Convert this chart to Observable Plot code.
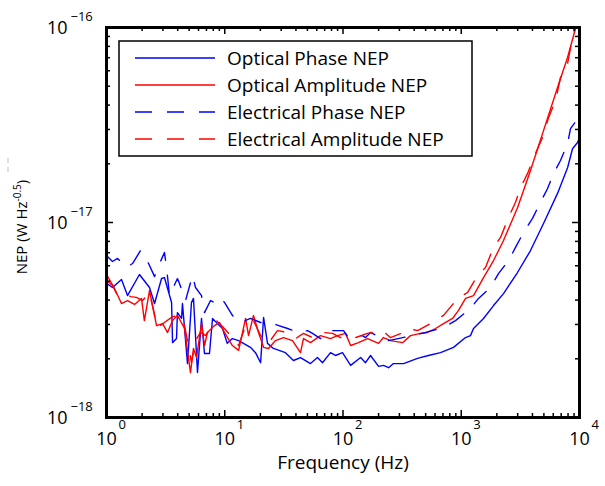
<!DOCTYPE html>
<html><head><meta charset="utf-8">
<script src="https://cdn.jsdelivr.net/npm/d3@7"></script>
<script src="https://cdn.jsdelivr.net/npm/@observablehq/plot@0.6"></script>
<style>
body{margin:0;background:#fff;}
#chart{width:605px;height:486px;}
</style></head><body><div id="chart"></div>
<script>
// [frequency (Hz), NEP in units of 1e-18 W Hz^-0.5]
const opticalPhase = [[1,4.87],[1.124,4.64],[1.339,5.10],[1.505,4.22],[1.90,5.41],[2.31,4.64],[2.55,3.84],[2.92,5.16],[3.09,5.22],[3.55,3.89],[3.62,2.42],[3.91,2.54],[3.98,3.45],[4.31,3.22],[4.39,3.84],[4.84,1.89],[5.23,3.89],[5.44,4.08],[5.88,1.70],[6.36,3.22],[6.74,2.13],[7.43,2.13],[7.88,3.22],[8.68,3.03],[9.57,2.86],[10.5,2.40],[11.6,2.54],[13.1,2.48],[16.5,2.29],[18.2,2.15],[20.1,1.91],[21.3,3.26],[23.0,2.40],[25.8,2.26],[32.6,2.15],[38.1,1.96],[43.7,2.03],[53.1,1.89],[60.8,2.03],[67.1,1.91],[78.4,2.15],[86.4,2.08],[99,2.15],[116,1.85],[141,2.03],[155,1.91],[171,2.08],[200,1.83],[220,1.85],[243,1.80],[267,1.89],[325,1.89],[427,2.01],[528,2.08],[668,2.15],[860,2.29],[1087,2.57],[1197,2.63],[1270,2.86],[1543,3.22],[1875,3.75],[2277,4.32],[2990,5.54],[3852,7.18],[4962,9.88],[6520,14.1],[7925,19.1],[8730,23.9],[9620,25.7],[10000,27.3]];
const opticalAmplitude = [[1,5.41],[1.169,4.59],[1.339,3.84],[1.505,3.98],[1.726,3.80],[1.977,4.08],[2.09,3.14],[2.31,4.48],[2.65,2.96],[2.98,3.03],[3.28,2.73],[3.62,3.14],[3.98,3.34],[4.57,2.86],[4.84,2.21],[5.13,1.70],[5.44,2.26],[5.77,2.03],[6.36,3.03],[6.74,2.34],[7.15,2.73],[8.19,2.96],[9.03,3.07],[9.95,2.73],[11.2,2.42],[11.6,2.34],[13.1,2.21],[15.0,3.22],[15.9,2.63],[17.5,3.34],[19.3,2.73],[21.3,2.29],[23.4,2.26],[26.9,2.48],[31.4,2.57],[37.4,2.48],[43.7,2.15],[46.3,2.54],[53.1,2.42],[64.5,2.63],[78.4,2.54],[89.8,2.63],[105,2.70],[116,2.34],[135,2.42],[161,2.54],[200,2.40],[220,2.57],[252,2.48],[319,2.42],[372,2.63],[452,2.70],[518,2.73],[606,2.86],[708,3.03],[844,3.22],[948,3.54],[1087,4.08],[1152,4.13],[1270,4.22],[1543,5.22],[1875,6.38],[2277,8.09],[2990,11.9],[3852,18.5],[4962,29.6],[6520,49.2],[7925,70.2],[9250,98.8],[10000,120]];
const electricalPhase = [[1,6.77],[1.124,6.31],[1.239,6.54],[1.476,5.88],[1.66,6.16],[1.94,7.18],[2.27,6.16],[2.55,5.28],[2.70,5.81],[3.09,7.02],[3.22,5.88],[3.41,4.22],[3.98,5.16],[4.14,4.87],[4.66,3.98],[5.34,5.35],[5.66,4.64],[6.36,4.22],[6.74,3.45],[7.58,3.98],[8.51,3.84],[9.39,4.08],[9.95,3.89],[11.6,3.34],[13.6,3.07],[16.5,3.22],[20.1,3.07],[25.3,3.03],[34.0,2.86],[42.0,2.73],[50.1,2.79],[55.2,2.70],[64.5,2.54],[75.4,2.79],[101,2.79],[111,2.57],[146,2.63],[155,2.57],[171,2.73],[220,2.51],[243,2.48],[387,2.63],[499,2.73],[708,2.89],[894,3.14],[1197,3.62],[1399,4.08],[1767,4.64],[2065,5.47],[2510,6.38],[2877,7.45],[3360,8.89],[4006,10.5],[4679,12.7],[5359,14.9],[6026,17.8],[6906,20.8],[7925,25.4],[8395,30.3],[9810,34.5],[10000,35.5]];
const electricalAmplitude = [[1,5.04],[1.124,4.75],[1.239,4.22],[1.42,4.31],[1.60,4.17],[1.79,4.13],[2.02,3.98],[2.31,4.37],[2.70,2.89],[3.09,3.07],[3.62,3.29],[4.14,3.34],[4.57,2.96],[4.94,2.34],[5.23,1.91],[5.66,2.48],[6.24,2.73],[6.87,2.63],[7.58,2.89],[8.51,3.14],[9.57,2.93],[11.2,2.63],[13.1,2.34],[15.0,2.96],[17.5,3.14],[20.1,2.63],[23.4,2.40],[27.9,2.79],[34.0,2.73],[39.7,2.54],[46.3,2.70],[55.2,2.57],[67.1,2.73],[81.5,2.70],[95.3,2.57],[128,2.57],[161,2.70],[216,2.79],[252,2.57],[325,2.73],[358,2.86],[427,2.79],[571,3.07],[708,3.34],[948,4.13],[1130,4.37],[1371,5.35],[1603,5.88],[1875,7.45],[2148,8.38],[2510,10.6],[2877,12.7],[3170,15.1],[3632,17.8],[4246,22.6],[4866,27.3],[5470,34.5],[6270,42.2],[6906,55.4],[7925,65.4],[8730,88.9],[9250,100],[10000,125]];

const seriesNames = ["Optical Phase NEP","Optical Amplitude NEP","Electrical Phase NEP","Electrical Amplitude NEP"];
const seriesData = [opticalPhase, opticalAmplitude, electricalPhase, electricalAmplitude];
const seriesColors = ["#0000ff","#ff0000","#0000ff","#ff0000"];
const seriesDash = [null, null, "17,15", "17,15"];

const xTicks = [1, 10, 100, 1000, 10000];
const xTickExp = ["0","1","2","3","4"];
const yTicks = [1e-18, 1e-17, 1e-16];
const yTickExp = ["\u221218","\u221217","\u221216"];
const xMinor = [2,3,4,5,6,7,8,9,20,30,40,50,60,70,80,90,200,300,400,500,600,700,800,900,2000,3000,4000,5000,6000,7000,8000,9000];
const yMinor = [2e-18,3e-18,4e-18,5e-18,6e-18,7e-18,8e-18,9e-18,2e-17,3e-17,4e-17,5e-17,6e-17,7e-17,8e-17,9e-17];
const xLabel = "Frequency (Hz)";
const yLabelMain = "NEP (W Hz";
const yLabelSup = "-0.5";

const FONT = "'Open Sans', sans-serif";
const W = 605, H = 486, mL = 106, mR = 26, mT = 27, mB = 69;
const pW = W - mL - mR, pH = H - mT - mB;

const lineMarks = seriesData.map((s, k) => Plot.line(s.map(([f, v]) => ({f, v: v * 1e-18})), {
  x: "f", y: "v", stroke: seriesColors[k], strokeWidth: 1.4,
  strokeDasharray: seriesDash[k] || undefined, clip: true
}));

const svg = Plot.plot({
  width: W, height: H,
  marginLeft: mL, marginRight: mR, marginTop: mT, marginBottom: mB,
  style: {fontFamily: FONT, background: "white", color: "black", overflow: "visible"},
  x: {type: "log", domain: [1, 1e4], axis: null},
  y: {type: "log", domain: [1e-18, 1e-16], axis: null},
  marks: [
    ...lineMarks,
    // inward ticks
    Plot.tickX(xMinor, {x: d => d, insetTop: pH - 4, stroke: "black", strokeWidth: 1.5}),
    Plot.tickX(xMinor, {x: d => d, insetBottom: pH - 4, stroke: "black", strokeWidth: 1.5}),
    Plot.tickX(xTicks, {x: d => d, insetTop: pH - 7, stroke: "black", strokeWidth: 1.5}),
    Plot.tickX(xTicks, {x: d => d, insetBottom: pH - 7, stroke: "black", strokeWidth: 1.5}),
    Plot.tickY(yMinor, {y: d => d, insetRight: pW - 4, stroke: "black", strokeWidth: 1.5}),
    Plot.tickY(yMinor, {y: d => d, insetLeft: pW - 4, stroke: "black", strokeWidth: 1.5}),
    Plot.tickY(yTicks, {y: d => d, insetRight: pW - 7, stroke: "black", strokeWidth: 1.5}),
    Plot.tickY(yTicks, {y: d => d, insetLeft: pW - 7, stroke: "black", strokeWidth: 1.5}),
    Plot.frame({stroke: "black", strokeWidth: 3}),
    // tick labels
    Plot.text(xTicks, {x: d => d, frameAnchor: "bottom", text: () => "10", dy: 27, fontSize: 18, fill: "black"}),
    Plot.text(xTicks, {x: d => d, frameAnchor: "bottom", text: (d, i) => xTickExp[i], dx: 12, dy: 11, textAnchor: "start", fontSize: 13, fill: "black"}),
    Plot.text(yTicks, {y: d => d, frameAnchor: "left", text: () => "10", textAnchor: "end", dx: -39, dy: 1, fontSize: 18, fill: "black"}),
    Plot.text(yTicks, {y: d => d, frameAnchor: "left", text: (d, i) => yTickExp[i], textAnchor: "start", dx: -36, dy: -11, fontSize: 13, fill: "black"}),
    Plot.text([xLabel], {frameAnchor: "bottom", text: d => d, dy: 51, fontSize: 19, fill: "black"})
  ]
});

const g = d3.select(svg).append("g").attr("font-family", FONT);
// y label
const yl = g.append("text").attr("transform", "translate(27,227) rotate(-90)")
  .attr("text-anchor", "middle").attr("font-size", 15).attr("fill", "black");
yl.append("tspan").text(yLabelMain);
yl.append("tspan").attr("dy", -6).attr("font-size", 10).text(yLabelSup);
yl.append("tspan").attr("dy", 6).text(")");
// small grey artifact mark at left edge
g.append("line").attr("x1", 8).attr("x2", 8).attr("y1", 158).attr("y2", 174)
  .attr("stroke", "#bbb").attr("stroke-width", 1).attr("stroke-dasharray", "5,4");

// legend
const lg = g.append("g");
lg.append("rect").attr("x", 119).attr("y", 41).attr("width", 353).attr("height", 115)
  .attr("fill", "white").attr("stroke", "black").attr("stroke-width", 1.5);
seriesNames.forEach((name, k) => {
  const y = 58 + k * 27;
  lg.append("line").attr("x1", 135).attr("x2", 215).attr("y1", y).attr("y2", y)
    .attr("stroke", seriesColors[k]).attr("stroke-width", 1.4)
    .attr("stroke-dasharray", seriesDash[k]);
  lg.append("text").attr("x", 227).attr("y", y).attr("dy", "0.35em")
    .attr("text-anchor", "start")
    .attr("font-size", 19).attr("fill", "black").text(name);
});

document.getElementById("chart").appendChild(svg);
</script>
</body></html>
